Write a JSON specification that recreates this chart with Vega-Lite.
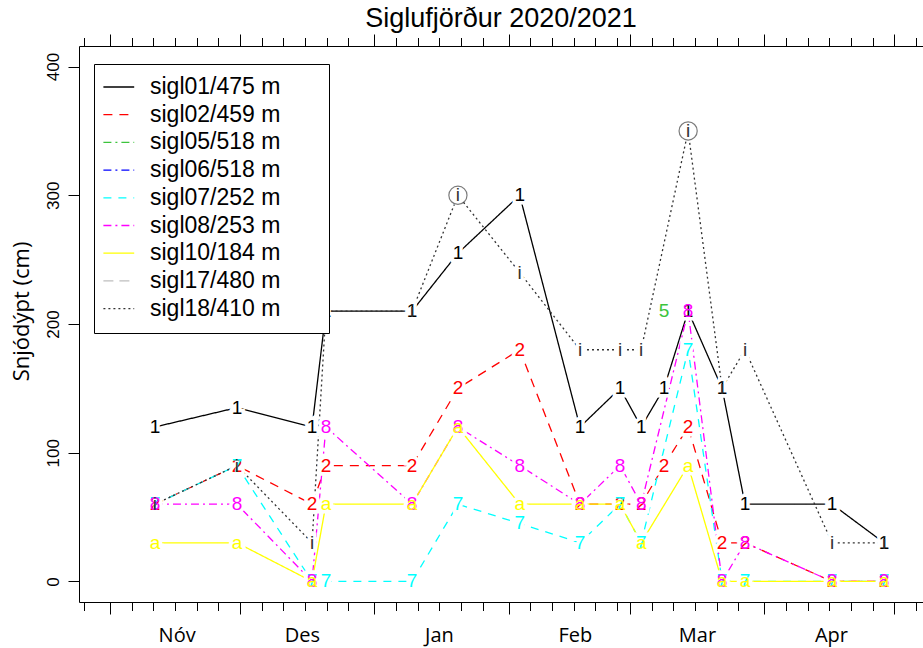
{
  "$schema": "https://vega.github.io/schema/vega-lite/v6.json",
  "width": 844,
  "height": 556,
  "autosize": {"type": "none"},
  "padding": {"left": 79, "top": 46, "right": 0, "bottom": 46},
  "background": "white",
  "title": {"text": "Siglufjörður 2020/2021", "font": "Liberation Sans", "fontSize": 27, "fontWeight": "normal", "color": "black", "anchor": "middle", "baseline": "alphabetic", "offset": 5, "dy": 25},
  "config": {
    "view": {"stroke": null},
    "axis": {"grid": false, "domainColor": "black", "tickColor": "black", "labelColor": "black", "domainWidth": 1, "tickWidth": 1}
  },
  "datasets": {
    "stations": [
      {"station": "sigl01", "name": "sigl01/475 m", "code": "1"},
      {"station": "sigl02", "name": "sigl02/459 m", "code": "2"},
      {"station": "sigl05", "name": "sigl05/518 m", "code": "5"},
      {"station": "sigl06", "name": "sigl06/518 m", "code": "6"},
      {"station": "sigl07", "name": "sigl07/252 m", "code": "7"},
      {"station": "sigl08", "name": "sigl08/253 m", "code": "8"},
      {"station": "sigl10", "name": "sigl10/184 m", "code": "a"},
      {"station": "sigl17", "name": "sigl17/480 m", "code": "h"},
      {"station": "sigl18", "name": "sigl18/410 m", "code": "i"}
    ],
    "snow": [
      {"station": "sigl01", "date": "2020-11-11T09:00Z", "depth": 120},
      {"station": "sigl01", "date": "2020-11-30T07:00Z", "depth": 135},
      {"station": "sigl01", "date": "2020-12-17T15:00Z", "depth": 120},
      {"station": "sigl01", "date": "2020-12-20T20:00Z", "depth": 210},
      {"station": "sigl01", "date": "2021-01-09T17:00Z", "depth": 210},
      {"station": "sigl01", "date": "2021-01-20T07:00Z", "depth": 255},
      {"station": "sigl01", "date": "2021-02-03T13:00Z", "depth": 300},
      {"station": "sigl01", "date": "2021-02-17T11:00Z", "depth": 120},
      {"station": "sigl01", "date": "2021-02-26T17:00Z", "depth": 150},
      {"station": "sigl01", "date": "2021-03-03T14:00Z", "depth": 120},
      {"station": "sigl01", "date": "2021-03-08T20:00Z", "depth": 150},
      {"station": "sigl01", "date": "2021-03-14T10:00Z", "depth": 210},
      {"station": "sigl01", "date": "2021-03-22T06:00Z", "depth": 150},
      {"station": "sigl01", "date": "2021-03-27T13:00Z", "depth": 60},
      {"station": "sigl01", "date": "2021-04-16T15:00Z", "depth": 60},
      {"station": "sigl01", "date": "2021-04-28T15:00Z", "depth": 30},

      {"station": "sigl02", "date": "2020-11-11T09:00Z", "depth": 60},
      {"station": "sigl02", "date": "2020-11-30T07:00Z", "depth": 90},
      {"station": "sigl02", "date": "2020-12-17T15:00Z", "depth": 60},
      {"station": "sigl02", "date": "2020-12-20T20:00Z", "depth": 90},
      {"station": "sigl02", "date": "2021-01-09T17:00Z", "depth": 90},
      {"station": "sigl02", "date": "2021-01-20T07:00Z", "depth": 150},
      {"station": "sigl02", "date": "2021-02-03T13:00Z", "depth": 180},
      {"station": "sigl02", "date": "2021-02-17T11:00Z", "depth": 60},
      {"station": "sigl02", "date": "2021-02-26T17:00Z", "depth": 60},
      {"station": "sigl02", "date": "2021-03-03T14:00Z", "depth": 60},
      {"station": "sigl02", "date": "2021-03-08T20:00Z", "depth": 90},
      {"station": "sigl02", "date": "2021-03-14T10:00Z", "depth": 120},
      {"station": "sigl02", "date": "2021-03-22T06:00Z", "depth": 30},
      {"station": "sigl02", "date": "2021-03-27T13:00Z", "depth": 30},
      {"station": "sigl02", "date": "2021-04-16T15:00Z", "depth": 0},
      {"station": "sigl02", "date": "2021-04-28T15:00Z", "depth": 0},

      {"station": "sigl05", "date": "2021-03-08T20:00Z", "depth": 210},

      {"station": "sigl07", "date": "2020-11-11T09:00Z", "depth": 60},
      {"station": "sigl07", "date": "2020-11-30T07:00Z", "depth": 90},
      {"station": "sigl07", "date": "2020-12-17T15:00Z", "depth": 0},
      {"station": "sigl07", "date": "2020-12-20T20:00Z", "depth": 0},
      {"station": "sigl07", "date": "2021-01-09T17:00Z", "depth": 0},
      {"station": "sigl07", "date": "2021-01-20T07:00Z", "depth": 60},
      {"station": "sigl07", "date": "2021-02-03T13:00Z", "depth": 45},
      {"station": "sigl07", "date": "2021-02-17T11:00Z", "depth": 30},
      {"station": "sigl07", "date": "2021-02-26T17:00Z", "depth": 60},
      {"station": "sigl07", "date": "2021-03-03T14:00Z", "depth": 30},
      {"station": "sigl07", "date": "2021-03-14T10:00Z", "depth": 180},
      {"station": "sigl07", "date": "2021-03-22T06:00Z", "depth": 0},
      {"station": "sigl07", "date": "2021-03-27T13:00Z", "depth": 0},
      {"station": "sigl07", "date": "2021-04-16T15:00Z", "depth": 0},
      {"station": "sigl07", "date": "2021-04-28T15:00Z", "depth": 0},

      {"station": "sigl08", "date": "2020-11-11T09:00Z", "depth": 60},
      {"station": "sigl08", "date": "2020-11-30T07:00Z", "depth": 60},
      {"station": "sigl08", "date": "2020-12-17T15:00Z", "depth": 0},
      {"station": "sigl08", "date": "2020-12-20T20:00Z", "depth": 120},
      {"station": "sigl08", "date": "2021-01-09T17:00Z", "depth": 60},
      {"station": "sigl08", "date": "2021-01-20T07:00Z", "depth": 120},
      {"station": "sigl08", "date": "2021-02-03T13:00Z", "depth": 90},
      {"station": "sigl08", "date": "2021-02-17T11:00Z", "depth": 60},
      {"station": "sigl08", "date": "2021-02-26T17:00Z", "depth": 90},
      {"station": "sigl08", "date": "2021-03-03T14:00Z", "depth": 60},
      {"station": "sigl08", "date": "2021-03-14T10:00Z", "depth": 210},
      {"station": "sigl08", "date": "2021-03-22T06:00Z", "depth": 0},
      {"station": "sigl08", "date": "2021-03-27T13:00Z", "depth": 30},
      {"station": "sigl08", "date": "2021-04-16T15:00Z", "depth": 0},
      {"station": "sigl08", "date": "2021-04-28T15:00Z", "depth": 0},

      {"station": "sigl10", "date": "2020-11-11T09:00Z", "depth": 30},
      {"station": "sigl10", "date": "2020-11-30T07:00Z", "depth": 30},
      {"station": "sigl10", "date": "2020-12-17T15:00Z", "depth": 0},
      {"station": "sigl10", "date": "2020-12-20T20:00Z", "depth": 60},
      {"station": "sigl10", "date": "2021-01-09T17:00Z", "depth": 60},
      {"station": "sigl10", "date": "2021-01-20T07:00Z", "depth": 120},
      {"station": "sigl10", "date": "2021-02-03T13:00Z", "depth": 60},
      {"station": "sigl10", "date": "2021-02-17T11:00Z", "depth": 60},
      {"station": "sigl10", "date": "2021-02-26T17:00Z", "depth": 60},
      {"station": "sigl10", "date": "2021-03-03T14:00Z", "depth": 30},
      {"station": "sigl10", "date": "2021-03-14T10:00Z", "depth": 90},
      {"station": "sigl10", "date": "2021-03-22T06:00Z", "depth": 0},
      {"station": "sigl10", "date": "2021-03-27T13:00Z", "depth": 0},
      {"station": "sigl10", "date": "2021-04-16T15:00Z", "depth": 0},
      {"station": "sigl10", "date": "2021-04-28T15:00Z", "depth": 0},

      {"station": "sigl18", "date": "2020-11-11T09:00Z", "depth": 60},
      {"station": "sigl18", "date": "2020-11-30T07:00Z", "depth": 90},
      {"station": "sigl18", "date": "2020-12-17T15:00Z", "depth": 30},
      {"station": "sigl18", "date": "2020-12-20T20:00Z", "depth": 210},
      {"station": "sigl18", "date": "2021-01-09T17:00Z", "depth": 210},
      {"station": "sigl18", "date": "2021-01-20T07:00Z", "depth": 300, "circled": true},
      {"station": "sigl18", "date": "2021-02-03T13:00Z", "depth": 240},
      {"station": "sigl18", "date": "2021-02-17T11:00Z", "depth": 180},
      {"station": "sigl18", "date": "2021-02-26T17:00Z", "depth": 180},
      {"station": "sigl18", "date": "2021-03-03T14:00Z", "depth": 180},
      {"station": "sigl18", "date": "2021-03-14T10:00Z", "depth": 350, "circled": true},
      {"station": "sigl18", "date": "2021-03-22T06:00Z", "depth": 150},
      {"station": "sigl18", "date": "2021-03-27T13:00Z", "depth": 180},
      {"station": "sigl18", "date": "2021-04-16T15:00Z", "depth": 30},
      {"station": "sigl18", "date": "2021-04-28T15:00Z", "depth": 30}
    ]
  },
  "data": {"name": "snow"},
  "transform": [
    {"lookup": "station", "from": {"data": {"name": "stations"}, "key": "station", "fields": ["name", "code"]}}
  ],
  "encoding": {
    "x": {
      "field": "date", "type": "temporal",
      "scale": {"type": "utc", "domain": [
        {"year": 2020, "month": 10, "date": 24, "hours": 20, "minutes": 18, "utc": true},
        {"year": 2021, "month": 5, "date": 7, "hours": 14, "minutes": 45, "utc": true}
      ]}
    },
    "y": {
      "field": "depth", "type": "quantitative",
      "scale": {"domain": [-16, 416], "nice": false, "zero": false},
      "axis": {
        "values": [0, 100, 200, 300, 400], "tickSize": 11,
        "labelAngle": -90, "labelAlign": "center", "labelBaseline": "alphabetic", "labelPadding": 10,
        "labelFont": "Liberation Sans", "labelFontSize": 17,
        "title": "Snjódýpt (cm)", "titleFont": "Open Sans", "titleFontSize": 22, "titleFontWeight": "normal", "titleColor": "black",
        "titleAngle": -90, "titleAlign": "center", "titleBaseline": "alphabetic", "titleX": -51, "titleY": 265
      }
    }
  },
  "layer": [
    {
      "mark": {"type": "line", "strokeWidth": 1.3},
      "encoding": {
        "x": {
          "field": "date", "type": "temporal",
          "axis": {
            "orient": "bottom", "title": null, "labels": false, "domain": true,
            "tickSize": {"condition": {"test": "utcdate(datum.value) === 1", "value": 12}, "value": 8.5},
            "values": [
              {"year": 2020, "month": 10, "date": 26, "utc": true},
              {"year": 2020, "month": 11, "date": 1, "utc": true},
              {"year": 2020, "month": 11, "date": 6, "utc": true},
              {"year": 2020, "month": 11, "date": 11, "utc": true},
              {"year": 2020, "month": 11, "date": 16, "utc": true},
              {"year": 2020, "month": 11, "date": 21, "utc": true},
              {"year": 2020, "month": 11, "date": 26, "utc": true},
              {"year": 2020, "month": 12, "date": 1, "utc": true},
              {"year": 2020, "month": 12, "date": 6, "utc": true},
              {"year": 2020, "month": 12, "date": 11, "utc": true},
              {"year": 2020, "month": 12, "date": 16, "utc": true},
              {"year": 2020, "month": 12, "date": 21, "utc": true},
              {"year": 2020, "month": 12, "date": 26, "utc": true},
              {"year": 2021, "month": 1, "date": 1, "utc": true},
              {"year": 2021, "month": 1, "date": 6, "utc": true},
              {"year": 2021, "month": 1, "date": 11, "utc": true},
              {"year": 2021, "month": 1, "date": 16, "utc": true},
              {"year": 2021, "month": 1, "date": 21, "utc": true},
              {"year": 2021, "month": 1, "date": 26, "utc": true},
              {"year": 2021, "month": 2, "date": 1, "utc": true},
              {"year": 2021, "month": 2, "date": 6, "utc": true},
              {"year": 2021, "month": 2, "date": 11, "utc": true},
              {"year": 2021, "month": 2, "date": 16, "utc": true},
              {"year": 2021, "month": 2, "date": 21, "utc": true},
              {"year": 2021, "month": 2, "date": 26, "utc": true},
              {"year": 2021, "month": 3, "date": 1, "utc": true},
              {"year": 2021, "month": 3, "date": 6, "utc": true},
              {"year": 2021, "month": 3, "date": 11, "utc": true},
              {"year": 2021, "month": 3, "date": 16, "utc": true},
              {"year": 2021, "month": 3, "date": 21, "utc": true},
              {"year": 2021, "month": 3, "date": 26, "utc": true},
              {"year": 2021, "month": 4, "date": 1, "utc": true},
              {"year": 2021, "month": 4, "date": 6, "utc": true},
              {"year": 2021, "month": 4, "date": 11, "utc": true},
              {"year": 2021, "month": 4, "date": 16, "utc": true},
              {"year": 2021, "month": 4, "date": 21, "utc": true},
              {"year": 2021, "month": 4, "date": 26, "utc": true},
              {"year": 2021, "month": 5, "date": 1, "utc": true},
              {"year": 2021, "month": 5, "date": 6, "utc": true}
            ]
          }
        },
        "color": {
          "field": "name", "type": "nominal",
          "scale": {
            "domain": ["sigl01/475 m", "sigl02/459 m", "sigl05/518 m", "sigl06/518 m", "sigl07/252 m", "sigl08/253 m", "sigl10/184 m", "sigl17/480 m", "sigl18/410 m"],
            "range": ["#000000", "#FF0000", "#3CC43C", "#0000FF", "#00FFFF", "#FF00FF", "#FFFF00", "#BEBEBE", "#333333"]
          },
          "legend": {
            "orient": "none", "legendX": 15, "legendY": 18, "title": "mm",
            "titleOrient": "right", "titleColor": "white", "titleFont": "Liberation Sans", "titleFontSize": 16, "titlePadding": 8,
            "strokeColor": "black", "fillColor": "white", "padding": 11.5,
            "labelFont": "Liberation Sans", "labelFontSize": 23, "labelColor": "black",
            "rowPadding": 3.7, "symbolType": "M-3.4,0H4.3", "symbolSize": 64, "symbolStrokeWidth": 1.3,
            "labelOffset": 21.5, "labelLimit": 0
          }
        },
        "strokeDash": {
          "field": "name", "type": "nominal",
          "scale": {
            "domain": ["sigl01/475 m", "sigl02/459 m", "sigl05/518 m", "sigl06/518 m", "sigl07/252 m", "sigl08/253 m", "sigl10/184 m", "sigl17/480 m", "sigl18/410 m"],
            "range": [[1, 0], [9, 7], [8, 4, 2, 4], [8, 4, 2, 4], [8, 7], [8, 4, 2, 4], [1, 0], [10, 6], [2, 3]]
          }
        }
      }
    },
    {
      "mark": {"type": "text", "font": "Liberation Sans", "fontSize": 19, "align": "center", "baseline": "middle", "fill": "white", "stroke": "white", "strokeWidth": 7},
      "encoding": {
        "x": {"field": "date", "type": "temporal", "axis": null},
        "text": {"field": "code"}
      }
    },
    {
      "mark": {"type": "text", "font": "Liberation Sans", "fontSize": 19, "align": "center", "baseline": "middle"},
      "encoding": {
        "x": {
          "field": "date", "type": "temporal",
          "axis": {
            "orient": "bottom", "title": null, "domain": false, "ticks": false, "tickSize": 0,
            "labelFont": "Open Sans", "labelFontSize": 20, "labelBaseline": "middle", "labelPadding": 33,
            "labelExpr": "['Jan','Feb','Mar','Apr','Maí','Jún','Júl','Ágú','Sep','Okt','Nóv','Des'][utcmonth(datum.value)]",
            "values": [
              {"year": 2020, "month": 11, "date": 16, "hours": 9, "utc": true},
              {"year": 2020, "month": 12, "date": 15, "hours": 7, "utc": true},
              {"year": 2021, "month": 1, "date": 15, "hours": 22, "utc": true},
              {"year": 2021, "month": 2, "date": 16, "hours": 7, "utc": true},
              {"year": 2021, "month": 3, "date": 16, "hours": 11, "utc": true},
              {"year": 2021, "month": 4, "date": 16, "hours": 9, "utc": true}
            ]
          }
        },
        "text": {"field": "code"},
        "color": {"field": "name", "type": "nominal", "legend": null}
      }
    },
    {
      "transform": [{"filter": "datum.circled === true"}],
      "mark": {"type": "point", "shape": "circle", "size": 330, "filled": false, "stroke": "#444444", "strokeWidth": 1.2},
      "encoding": {
        "x": {
          "field": "date", "type": "temporal",
          "axis": {
            "orient": "top", "title": null, "labels": false, "domain": true,
            "tickSize": {"condition": {"test": "utcdate(datum.value) === 1", "value": 12}, "value": 8.5},
            "values": [
              {"year": 2020, "month": 10, "date": 26, "utc": true},
              {"year": 2020, "month": 11, "date": 1, "utc": true},
              {"year": 2020, "month": 11, "date": 6, "utc": true},
              {"year": 2020, "month": 11, "date": 11, "utc": true},
              {"year": 2020, "month": 11, "date": 16, "utc": true},
              {"year": 2020, "month": 11, "date": 21, "utc": true},
              {"year": 2020, "month": 11, "date": 26, "utc": true},
              {"year": 2020, "month": 12, "date": 1, "utc": true},
              {"year": 2020, "month": 12, "date": 6, "utc": true},
              {"year": 2020, "month": 12, "date": 11, "utc": true},
              {"year": 2020, "month": 12, "date": 16, "utc": true},
              {"year": 2020, "month": 12, "date": 21, "utc": true},
              {"year": 2020, "month": 12, "date": 26, "utc": true},
              {"year": 2021, "month": 1, "date": 1, "utc": true},
              {"year": 2021, "month": 1, "date": 6, "utc": true},
              {"year": 2021, "month": 1, "date": 11, "utc": true},
              {"year": 2021, "month": 1, "date": 16, "utc": true},
              {"year": 2021, "month": 1, "date": 21, "utc": true},
              {"year": 2021, "month": 1, "date": 26, "utc": true},
              {"year": 2021, "month": 2, "date": 1, "utc": true},
              {"year": 2021, "month": 2, "date": 6, "utc": true},
              {"year": 2021, "month": 2, "date": 11, "utc": true},
              {"year": 2021, "month": 2, "date": 16, "utc": true},
              {"year": 2021, "month": 2, "date": 21, "utc": true},
              {"year": 2021, "month": 2, "date": 26, "utc": true},
              {"year": 2021, "month": 3, "date": 1, "utc": true},
              {"year": 2021, "month": 3, "date": 6, "utc": true},
              {"year": 2021, "month": 3, "date": 11, "utc": true},
              {"year": 2021, "month": 3, "date": 16, "utc": true},
              {"year": 2021, "month": 3, "date": 21, "utc": true},
              {"year": 2021, "month": 3, "date": 26, "utc": true},
              {"year": 2021, "month": 4, "date": 1, "utc": true},
              {"year": 2021, "month": 4, "date": 6, "utc": true},
              {"year": 2021, "month": 4, "date": 11, "utc": true},
              {"year": 2021, "month": 4, "date": 16, "utc": true},
              {"year": 2021, "month": 4, "date": 21, "utc": true},
              {"year": 2021, "month": 4, "date": 26, "utc": true},
              {"year": 2021, "month": 5, "date": 1, "utc": true},
              {"year": 2021, "month": 5, "date": 6, "utc": true}
            ]
          }
        }
      }
    }
  ],
  "resolve": {"axis": {"x": "independent"}}
}
